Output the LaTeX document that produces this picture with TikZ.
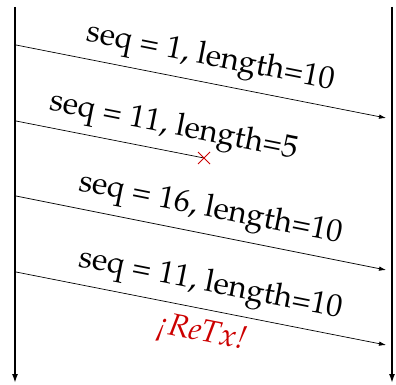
\documentclass[tikz,border=0pt]{standalone}
\usepackage[T1]{fontenc}
\usepackage{mathpazo}
\usetikzlibrary{arrows.meta,calc}
\definecolor{retx}{RGB}{204,0,0}
\begin{document}
\begin{tikzpicture}[x=1pt,y=-1pt,
  axis/.style={line width=1.6pt,-{Latex[length=9pt,width=6pt]}},
  msg/.style={line width=0.7pt,-{Latex[length=7pt,width=4.5pt]}},
  lbl/.style={font=\fontsize{31.5}{36}\selectfont,sloped,above,inner sep=8.5pt},
  rlbl/.style={font=\fontsize{31.5}{36}\selectfont\itshape,text=retx,sloped,below,inner sep=9pt},
  lost/.style={line width=0.7pt},
  redmark/.style={draw=retx,line width=0.8pt}]
\useasboundingbox (0,0) rectangle (396,385);
\coordinate (lt) at (15,7);
\coordinate (lb) at (15,383);
\coordinate (rt) at (392,7);
\coordinate (rb) at (392,383);
\draw[axis] (lt) -- (lb);
\draw[axis] (rt) -- (rb);
\coordinate (a1) at (16,45);
\coordinate (b1) at (386,118);
\coordinate (a2) at (16,121);
\coordinate (b2) at (204,158);
\coordinate (a3) at (16,196);
\coordinate (b3) at (386,270);
\coordinate (a4) at (16,272);
\coordinate (b4) at (386,345);
\draw[msg] (a1) -- node[lbl,pos=0.512] {seq = 1, length=10} (b1);
\draw[lost] (a2) -- (b2);
\node[font=\fontsize{31.5}{36}\selectfont,rotate=-11.2,inner sep=0pt,anchor=base] (l2) at (172,134) {seq = 11, length=5};
\draw[redmark] ($(b2)+(-6,-6)$) -- ($(b2)+(6,6)$);
\draw[redmark] ($(b2)+(-6,6)$) -- ($(b2)+(6,-6)$);
\draw[msg] (a3) -- node[lbl,pos=0.512] {seq = 16, length=10} (b3);
\draw[msg] (a4) -- node[lbl,pos=0.512] {seq = 11, length=10} node[rlbl,pos=0.515] {\textexclamdown ReTx!} (b4);
\end{tikzpicture}
\end{document}
